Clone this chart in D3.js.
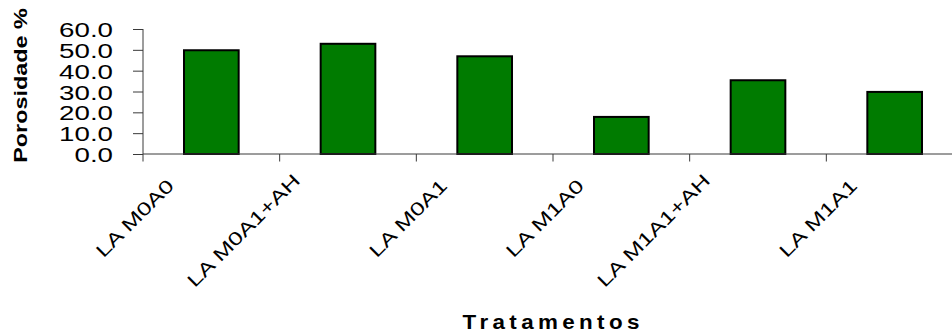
<!DOCTYPE html>
<html>
<head>
<meta charset="utf-8">
<script src="https://cdn.jsdelivr.net/npm/d3@7/dist/d3.min.js"></script>
<style>
  html, body { margin: 0; padding: 0; background: #fff; }
  svg { display: block; }
  text { font-family: "Liberation Sans", Arial, sans-serif; fill: #000; }
</style>
</head>
<body>
<div id="chart"></div>
<script>
// Porosity per treatment
const categories = ["LA M0A0", "LA M0A1+AH", "LA M0A1", "LA M1A0", "LA M1A1+AH", "LA M1A1"];
const porosity = [49.8, 52.9, 46.9, 17.8, 35.4, 29.8];
const yTicks = [0, 10, 20, 30, 40, 50, 60];
const yTitle = "Porosidade %";
const xTitle = "Tratamentos";

const W = 952, H = 333;
const plot = { left: 143, right: 963, top: 29, bottom: 154 };
const axisColor = "#3a3a3a";

const svg = d3.select("#chart").append("svg")
  .attr("width", W).attr("height", H);

const x = d3.scaleBand()
  .domain(categories)
  .range([plot.left, plot.right])
  .paddingInner(0.6)
  .paddingOuter(0.3);

const y = d3.scaleLinear()
  .domain([0, 60])
  .range([plot.bottom, plot.top]);

// Bars
svg.append("g").selectAll("rect")
  .data(categories.map((c, i) => ({ c, v: porosity[i] })))
  .join("rect")
  .attr("x", d => x(d.c))
  .attr("width", x.bandwidth())
  .attr("y", d => y(d.v))
  .attr("height", d => y(0) - y(d.v))
  .attr("fill", "#007b00")
  .attr("stroke", "#000")
  .attr("stroke-width", 2);

// Y axis
const yAxis = svg.append("g")
  .attr("transform", `translate(${plot.left},0)`)
  .call(d3.axisLeft(y).tickValues(yTicks).tickSize(10).tickFormat(d3.format(".1f")));
yAxis.select(".domain").remove();
yAxis.selectAll(".tick line").attr("stroke", axisColor);
yAxis.append("line")
  .attr("x1", 0).attr("x2", 0)
  .attr("y1", y(60)).attr("y2", plot.bottom + 7.5)
  .attr("stroke", axisColor);
yAxis.selectAll(".tick text")
  .attr("x", 0)
  .attr("dy", "0.36em")
  .attr("transform", "translate(-30,0) scale(1.32,1)")
  .style("font-size", "21px")
  .style("text-anchor", "end");

// X axis line with ticks between categories
const step = x.step();
const cellStarts = categories.map(c => x(c) + x.bandwidth() / 2 - step / 2);
const xAxis = svg.append("g");
xAxis.append("line")
  .attr("x1", plot.left).attr("x2", plot.right)
  .attr("y1", plot.bottom).attr("y2", plot.bottom)
  .attr("stroke", axisColor);
xAxis.selectAll("line.tick")
  .data(cellStarts.slice(1))
  .join("line")
  .attr("class", "tick")
  .attr("x1", d => d).attr("x2", d => d)
  .attr("y1", plot.bottom).attr("y2", plot.bottom + 7.5)
  .attr("stroke", axisColor);

// Rotated category labels, widened along the reading direction
const labelScale = 1.35;
const labels = xAxis.selectAll("text.cat")
  .data(categories)
  .join("text")
  .attr("class", "cat")
  .style("font-size", "18.5px")
  .style("text-anchor", "end")
  .text(d => d);
labels.each(function (d) {
  const len = this.getComputedTextLength() * labelScale;
  const cx = x(d) + x.bandwidth() / 2;
  const ex = cx - 15 - 0.21 * len;
  const ey = plot.bottom + 43.4 - 0.104 * len;
  d3.select(this)
    .attr("textLength", len)
    .attr("lengthAdjust", "spacingAndGlyphs")
    .attr("transform", `translate(${ex},${ey}) rotate(-45)`);
});

// Axis titles
svg.append("text")
  .attr("transform", `translate(27,85.5) rotate(-90) scale(1.3,1)`)
  .style("font-size", "18px")
  .style("font-weight", "bold")
  .style("text-anchor", "middle")
  .text(yTitle);

const ls = 3.9;
svg.append("text")
  .attr("transform", `translate(${551 + ls * 1.12 / 2},328.5) scale(1.12,1)`)
  .style("font-size", "20px")
  .style("font-weight", "bold")
  .style("letter-spacing", ls + "px")
  .style("text-anchor", "middle")
  .text(xTitle);
</script>
</body>
</html>
